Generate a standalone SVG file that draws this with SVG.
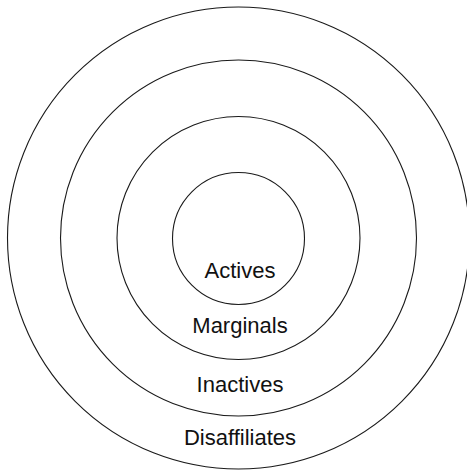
<svg xmlns="http://www.w3.org/2000/svg" width="467" height="470" viewBox="0 0 467 470">
<style>
.ring{fill:none;stroke:#1a1a1a;stroke-width:1.1}
.lbl{font-family:"Liberation Sans",Arial,sans-serif;font-size:22px;fill:#111;text-anchor:middle}
</style>
<rect width="467" height="470" fill="#fff"/>
<g id="disaffiliates"><circle class="ring" cx="238.5" cy="238" r="231"/><text class="lbl" x="240" y="445">Disaffiliates</text></g>
<g id="inactives"><circle class="ring" cx="238.5" cy="238" r="178"/><text class="lbl" x="240" y="392">Inactives</text></g>
<g id="marginals"><circle class="ring" cx="238.5" cy="238" r="121.5"/><text class="lbl" x="240" y="333">Marginals</text></g>
<g id="actives"><circle class="ring" cx="238.5" cy="238.5" r="66"/><text class="lbl" x="240" y="278">Actives</text></g>
<g id="connectors"/>
</svg>
